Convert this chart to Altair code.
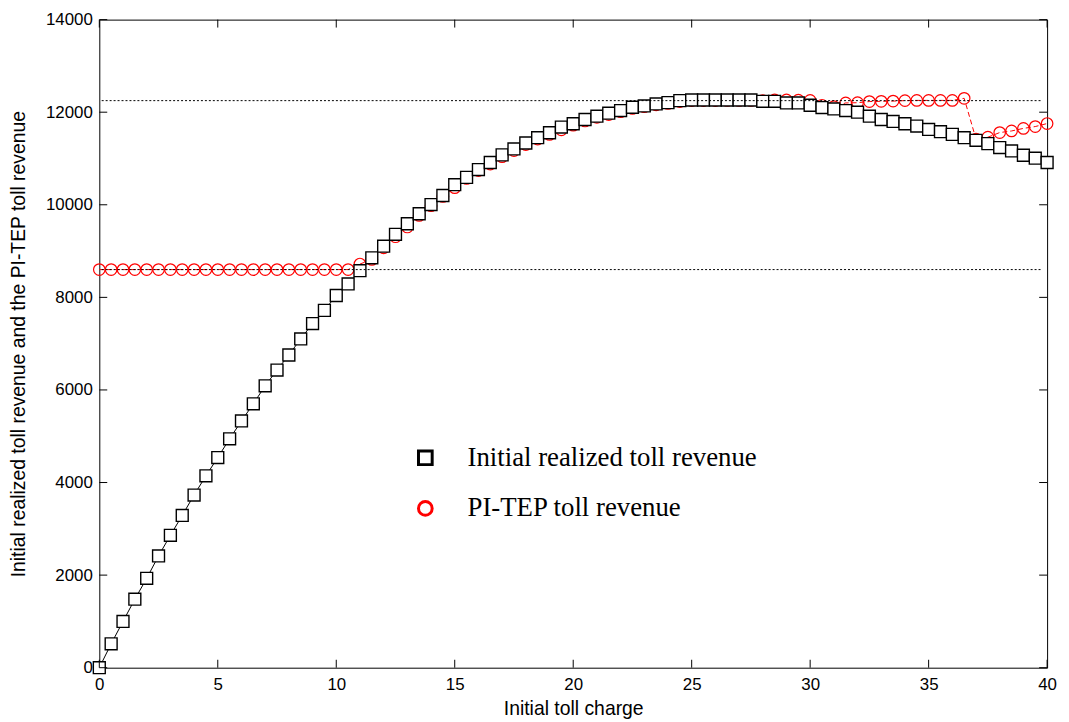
import altair as alt
import pandas as pd

# ---- data ----
toll = [i * 0.5 for i in range(81)]  # 0, 0.5, ..., 40

realized = [0, 515, 1000, 1480, 1930, 2415, 2860, 3290, 3730, 4145,
            4540, 4945, 5330, 5700, 6090, 6430, 6755, 7103, 7433, 7719,
            8040, 8290, 8576, 8855, 9105, 9362, 9590, 9806, 10005, 10200,
            10435, 10592, 10760, 10913, 11078, 11207, 11335, 11449, 11556, 11678,
            11750, 11842, 11914, 11978, 12035, 12107, 12135, 12178, 12207, 12250,
            12264, 12264, 12264, 12264, 12264, 12264, 12235, 12235, 12200, 12200,
            12150, 12100, 12070, 12035, 12000, 11914, 11842, 11800, 11750, 11700,
            11628, 11580, 11521, 11449, 11392, 11321, 11235, 11164, 11070, 11006,
            10913]

pitep = [8600] * 22 + [8720, 8820, 9070, 9310, 9520, 9770, 9980, 10180,
         10370, 10570, 10740, 10880, 11040, 11170, 11300, 11420, 11520, 11620,
         11720, 11810, 11890, 11950, 12010, 12080, 12120, 12160, 12190, 12230,
         12250, 12250, 12250, 12255, 12255, 12255, 12250, 12265, 12265, 12260,
         12255, 12150, 12120, 12200, 12205, 12230, 12235, 12240, 12250, 12255,
         12255, 12255, 12255, 12300, 11420, 11460, 11560, 11595, 11650, 11690,
         11755]

series_names = ["Initial realized toll revenue", "PI-TEP toll revenue"]
hline_levels = [8600, 12250]
hline_x = [0.1, 39.8]
x_ticks = [0, 5, 10, 15, 20, 25, 30, 35, 40]
y_ticks = [0, 2000, 4000, 6000, 8000, 10000, 12000, 14000]

W, H = 955, 653

df = pd.DataFrame({
    "toll": toll * 2,
    "rev": realized + pitep,
    "series": [series_names[0]] * len(toll) + [series_names[1]] * len(toll),
})
hl = pd.DataFrame([{"toll": xx, "rev": lv, "lvl": str(lv)} for lv in hline_levels for xx in hline_x])
xt = pd.DataFrame({"t": x_ticks})
yt = pd.DataFrame({"t": y_ticks})

xs = alt.Scale(domain=[0, 40], nice=False, zero=False)
ys = alt.Scale(domain=[0, 14000], nice=False, zero=False)

X = alt.X("toll:Q", scale=xs,
          axis=alt.Axis(values=x_ticks, title="Initial toll charge", ticks=False, domain=False,
                        grid=False, labelFlush=False, labelOverlap=False, labelPadding=9,
                        titlePadding=7, format="d"))
Y = alt.Y("rev:Q", scale=ys,
          axis=alt.Axis(values=y_ticks, title="Initial realized toll revenue and the PI-TEP toll revenue",
                        ticks=False, domain=False, grid=False, labelFlush=False,
                        labelOverlap=False, labelPadding=7, titlePadding=17, format="d",
                        titleLimit=1000))

leg = dict(title=None, orient="none", legendX=315, legendY=428,
           symbolSize=190, symbolStrokeWidth=3, labelFontSize=27,
           labelFont="Liberation Serif", labelColor="black", labelLimit=0,
           labelOffset=29, rowPadding=23, padding=0, symbolFillColor="white")
col = alt.Color("series:N", scale=alt.Scale(domain=series_names, range=["black", "red"]),
                legend=alt.Legend(**leg))
shp = alt.Shape("series:N", scale=alt.Scale(domain=series_names, range=["square", "circle"]),
                legend=alt.Legend(**leg))

base = alt.Chart(df)

black_line = base.transform_filter(alt.datum.series == series_names[0]).mark_line(
    color="black", strokeWidth=1).encode(x=X, y=Y)
red_line = base.transform_filter(alt.datum.series == series_names[1]).mark_line(
    color="red", strokeWidth=1, strokeDash=[5, 3]).encode(x=X, y=Y)
red_pts = base.transform_filter(alt.datum.series == series_names[1]).mark_point(
    filled=False, strokeWidth=1.2, size=135, opacity=1).encode(x=X, y=Y, color=col, shape=shp)
black_pts = base.transform_filter(alt.datum.series == series_names[0]).mark_point(
    filled=False, fill="white", fillOpacity=1, strokeWidth=1.4, size=144, opacity=1).encode(
    x=X, y=Y, color=col, shape=shp)

hlines = alt.Chart(hl).mark_line(color="black", strokeWidth=1, strokeDash=[2, 2]).encode(
    x=alt.X("toll:Q", scale=xs), y=alt.Y("rev:Q", scale=ys), detail="lvl:N")

tick_len = 8
xb = alt.Chart(xt).mark_rule(color="black", strokeWidth=1).encode(
    x=alt.X("t:Q", scale=xs), y=alt.value(H), y2=alt.value(H - tick_len))
xtop = alt.Chart(xt).mark_rule(color="black", strokeWidth=1).encode(
    x=alt.X("t:Q", scale=xs), y=alt.value(0), y2=alt.value(tick_len))
yl = alt.Chart(yt).mark_rule(color="black", strokeWidth=1).encode(
    y=alt.Y("t:Q", scale=ys), x=alt.value(0), x2=alt.value(tick_len))
yr = alt.Chart(yt).mark_rule(color="black", strokeWidth=1).encode(
    y=alt.Y("t:Q", scale=ys), x=alt.value(W), x2=alt.value(W - tick_len))

chart = alt.layer(black_line, red_line, red_pts, black_pts, hlines, xb, xtop, yl, yr).properties(
    width=W, height=H,
    autosize=alt.AutoSizeParams(type="none"),
    padding={"left": 92, "top": 9, "right": 14, "bottom": 50},
    background="white",
).configure_view(stroke="black", strokeWidth=1).configure_axis(
    labelFont="Liberation Sans", labelFontSize=17, labelColor="black",
    titleFont="Liberation Sans", titleFontSize=19.5, titleColor="black", titleFontWeight="normal",
)

chart.save("out.html", embed_options={"renderer": "svg", "actions": False})
